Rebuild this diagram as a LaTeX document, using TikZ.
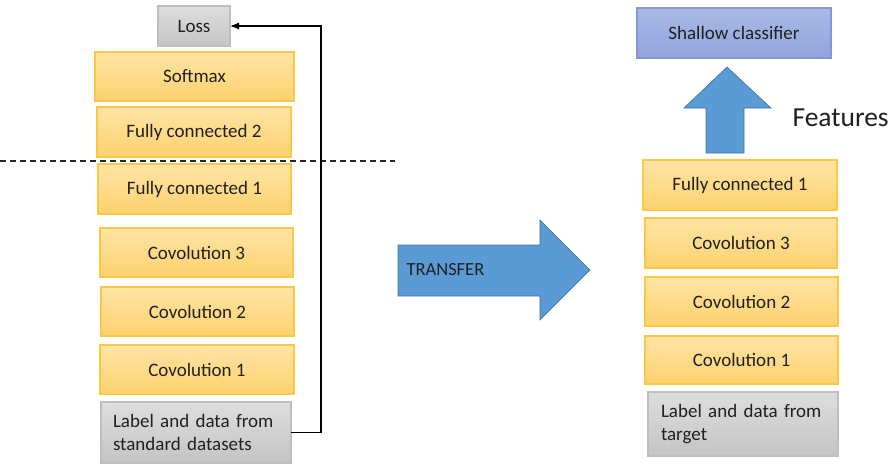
\documentclass[tikz,border=0pt]{standalone}
\usepackage{fontspec}
\setmainfont{Carlito}
\usetikzlibrary{arrows.meta}
\definecolor{txt}{RGB}{32,32,32}
\definecolor{orTop}{RGB}{255,228,165}
\definecolor{orBot}{RGB}{253,210,110}
\definecolor{orLine}{RGB}{250,200,70}
\definecolor{gyTop}{RGB}{222,222,222}
\definecolor{gyBot}{RGB}{196,196,196}
\definecolor{gyLine}{RGB}{190,190,190}
\definecolor{blTop}{RGB}{170,186,230}
\definecolor{blBot}{RGB}{143,164,220}
\definecolor{blLine}{RGB}{130,152,214}
\definecolor{arFill}{RGB}{91,155,213}
\definecolor{arLine}{RGB}{65,113,156}
\tikzset{
  box/.style={rectangle, inner sep=0pt, outer sep=0pt, line width=1.1pt,
    text=txt, font=\fontsize{19}{23}\selectfont, align=center},
  layer/.style={box, draw=orLine, top color=orTop, bottom color=orBot},
  databox/.style={box, draw=gyLine, top color=gyTop, bottom color=gyBot, align=left},
  clsbox/.style={box, draw=blLine, top color=blTop, bottom color=blBot},
  bigarrow/.style={fill=arFill, draw=arLine, line width=0.6pt, line join=miter},
  feedback/.style={draw=black, line width=1.2pt, -{Latex[length=9pt,width=7pt]}},
  cutline/.style={draw=black!85, line width=1.3pt, dash pattern=on 6pt off 4pt}
}
\begin{document}
\begin{tikzpicture}[x=1pt,y=-1pt]
\useasboundingbox (0,0) rectangle (894,466);

% source network (left)
\node[databox, align=center, minimum width=72pt, minimum height=40pt] (loss) at (194,26) {Loss};
\node[layer, minimum width=199pt, minimum height=49pt] (sm)  at (194.5,76.5)  {Softmax};
\node[layer, minimum width=194pt, minimum height=50pt] (fc2) at (194,132)  {Fully connected 2};
\node[layer, minimum width=193pt, minimum height=50pt] (fc1) at (194.5,189) {Fully connected 1};
\node[layer, minimum width=193pt, minimum height=49pt] (c3)  at (196.5,252.5) {Covolution 3};
\node[layer, minimum width=193pt, minimum height=49pt] (c2)  at (197.5,311.5) {Covolution 2};
\node[layer, minimum width=194pt, minimum height=49pt] (c1)  at (197,369.5) {Covolution 1};
\node[databox, minimum width=190pt, minimum height=61pt, text width=166pt] (src) at (196,432.5)
  {Label and data from\\standard datasets};

% cut between frozen and retrained layers
\coordinate (cutL) at (0,161);
\coordinate (cutR) at (395,161);
\draw[cutline] (cutL) -- (cutR);

% loss feedback
\draw[feedback] (src.east) -- ++(30,0) |- (loss.east);

% transfer arrow
\draw[bigarrow] (398,245) -- (540,245) -- (540,220) -- (590,270) -- (540,320)
  -- (540,296) -- (398,296) -- cycle;
\node[anchor=west, text=txt, font=\fontsize{18.5}{22}\selectfont] (tr) at (403,270) {TRANSFER};

% target network (right)
\node[clsbox, minimum width=194pt, minimum height=50pt] (cls) at (734,33) {Shallow classifier};
\node[layer, minimum width=194pt, minimum height=50pt] (tfc1) at (740,185) {Fully connected 1};
\node[layer, minimum width=192pt, minimum height=50pt] (tc3)  at (741,243) {Covolution 3};
\node[layer, minimum width=193pt, minimum height=49pt] (tc2)  at (741.5,301.5) {Covolution 2};
\node[layer, minimum width=193pt, minimum height=48pt] (tc1)  at (741.5,360) {Covolution 1};
\node[databox, minimum width=190pt, minimum height=64pt, text width=164pt] (tgt) at (743,424)
  {Label and data from\\target};

% features arrow
\draw[bigarrow] (706,153) -- (706,108) -- (684,108) -- (727,67) -- (771,108)
  -- (744,108) -- (744,153) -- cycle;
\node[anchor=west, text=txt, font=\fontsize{27.5}{30}\selectfont] (feat) at (789,118) {Features};
\end{tikzpicture}
\end{document}
